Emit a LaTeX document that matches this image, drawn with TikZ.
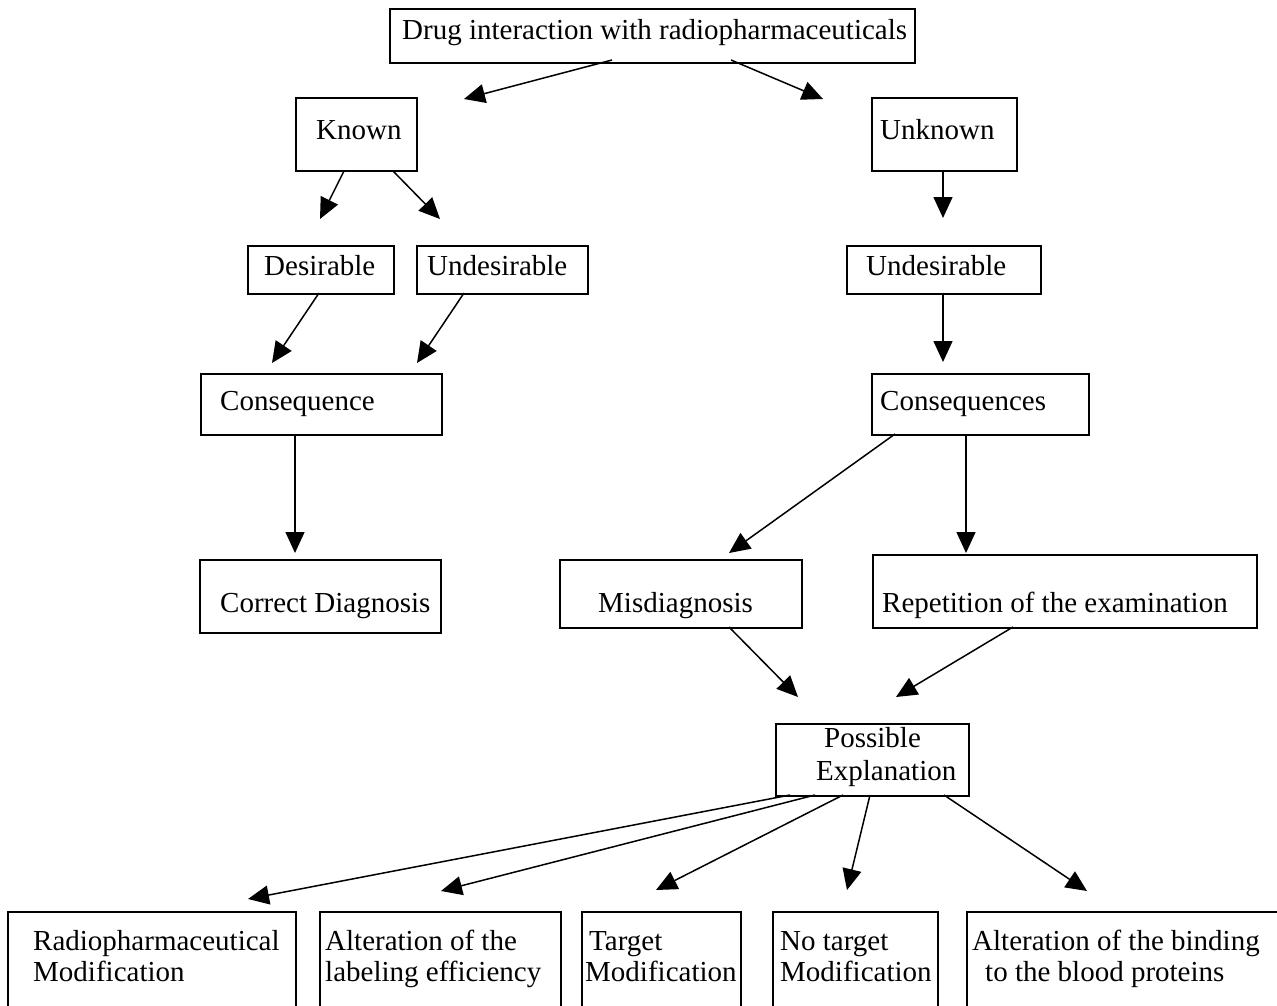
\documentclass[tikz,border=0pt]{standalone}
\usepackage{fontspec}
\setmainfont{Liberation Serif}
\usetikzlibrary{arrows.meta}
\begin{document}
\begin{tikzpicture}[x=1pt,y=-1pt,
  box/.style={draw=black,line width=1.8pt,rectangle,inner sep=0pt,anchor=north west},
  txt/.style={inner sep=0pt,anchor=base west,font=\fontsize{29}{33}\selectfont},
  arr/.style={line width=1.5pt,-{Triangle[length=21pt,width=19pt]}}]
\clip (0,0) rectangle (1277,1006);
\fill[white] (0,0) rectangle (1277,1006);
% boxes
\node[box,minimum width=525pt,minimum height=54pt] (top) at (389,8) {};
\node[box,minimum width=121pt,minimum height=73pt] (known) at (295,97) {};
\node[box,minimum width=145pt,minimum height=73pt] (unknown) at (871,97) {};
\node[box,minimum width=146pt,minimum height=48pt] (des) at (247,245) {};
\node[box,minimum width=171pt,minimum height=48pt] (undl) at (416,245) {};
\node[box,minimum width=194pt,minimum height=48pt] (undr) at (846,245) {};
\node[box,minimum width=241pt,minimum height=61pt] (cons) at (200,373) {};
\node[box,minimum width=217pt,minimum height=61pt] (consr) at (871,373) {};
\node[box,minimum width=241pt,minimum height=73pt] (corr) at (199,559) {};
\node[box,minimum width=242pt,minimum height=68pt] (mis) at (559,559) {};
\node[box,minimum width=384pt,minimum height=73pt] (rep) at (872,554) {};
\node[box,minimum width=193pt,minimum height=72pt] (poss) at (775,723) {};
\node[box,minimum width=288pt,minimum height=130pt] (b1) at (7,911) {};
\node[box,minimum width=241pt,minimum height=130pt] (b2) at (319,911) {};
\node[box,minimum width=159pt,minimum height=130pt] (b3) at (581,911) {};
\node[box,minimum width=165pt,minimum height=130pt] (b4) at (772,911) {};
\node[box,minimum width=340pt,minimum height=130pt] (b5) at (966,911) {};
% texts
\node[txt] (ttop) at (402,40) {Drug interaction with radiopharmaceuticals};
\node[txt] (tknown) at (316,140) {Known};
\node[txt] (tunknown) at (880,140) {Unknown};
\node[txt] (tdes) at (264,275) {Desirable};
\node[txt] (tundl) at (427,275) {Undesirable};
\node[txt] (tundr) at (866,275) {Undesirable};
\node[txt] (tcons) at (220,410) {Consequence};
\node[txt] (tconsr) at (880,410) {Consequences};
\node[txt] (tcorr) at (220,612) {Correct Diagnosis};
\node[txt] (tmis) at (598,612) {Misdiagnosis};
\node[txt] (trep) at (882,612) {Repetition of the examination};
\node[txt] (tposs1) at (824,747) {Possible};
\node[txt] (tposs2) at (816,780) {Explanation};
\node[txt] (tb1a) at (33,950) {Radiopharmaceutical};
\node[txt] (tb1b) at (33,981) {Modification};
\node[txt] (tb2a) at (325,950) {Alteration of the};
\node[txt] (tb2b) at (325,981) {labeling efficiency};
\node[txt] (tb3a) at (589,950) {Target};
\node[txt] (tb3b) at (585,981) {Modification};
\node[txt] (tb4a) at (780,950) {No target};
\node[txt] (tb4b) at (780,981) {Modification};
\node[txt] (tb5a) at (972,950) {Alteration of the binding};
\node[txt] (tb5b) at (985,981) {to the blood proteins};
% connector end points
\coordinate (s1) at (612,60);  \coordinate (e1) at (464,99);
\coordinate (s2) at (731,60);  \coordinate (e2) at (823,99);
\coordinate (s3) at (344,171); \coordinate (e3) at (320,219);
\coordinate (s4) at (393,171); \coordinate (e4) at (440,219);
\coordinate (s5) at (943,171); \coordinate (e5) at (943,218);
\coordinate (s6) at (319,293); \coordinate (e6) at (272,363);
\coordinate (s7) at (464,293); \coordinate (e7) at (417,363);
\coordinate (s8) at (943,293); \coordinate (e8) at (943,362);
\coordinate (s9) at (295,434); \coordinate (e9) at (295,553);
\coordinate (s10) at (895,434); \coordinate (e10) at (729,553);
\coordinate (s11) at (966,434); \coordinate (e11) at (966,553);
\coordinate (s12) at (729,627); \coordinate (e12) at (798,697);
\coordinate (s13) at (1013,627); \coordinate (e13) at (896,697);
\coordinate (s14) at (790,795); \coordinate (e14) at (248,899);
\coordinate (s15) at (815,795); \coordinate (e15) at (441,891);
\coordinate (s16) at (843,795); \coordinate (e16) at (656,890);
\coordinate (s17) at (870,795); \coordinate (e17) at (847,890);
\coordinate (s18) at (944,795); \coordinate (e18) at (1087,891);
\foreach \i in {1,...,18} {\draw[arr] (s\i) -- (e\i);}
\end{tikzpicture}
\end{document}
